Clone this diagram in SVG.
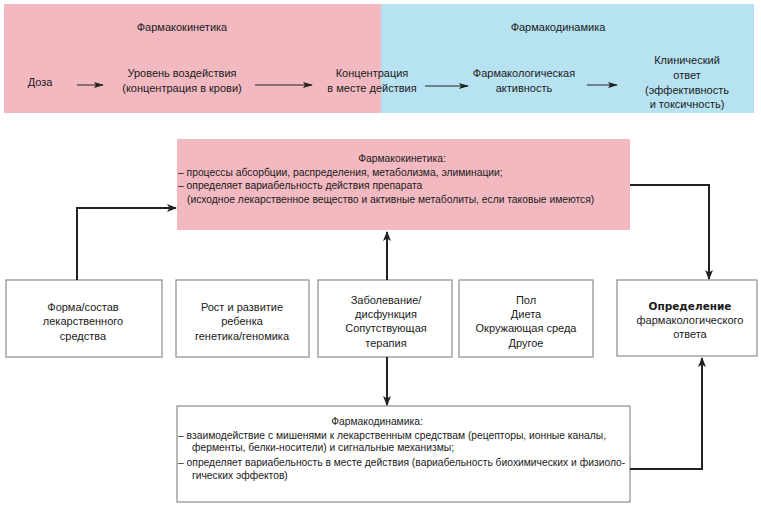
<svg xmlns="http://www.w3.org/2000/svg" width="761" height="506" viewBox="0 0 761 506">
<style>
text{font-family:"Liberation Sans",Arial,sans-serif;fill:#1a1a1a}
.t{font-size:11px;text-anchor:middle}
.s{font-size:10.3px}
.sc{font-size:10.3px;text-anchor:middle}
.box{fill:#fff;stroke:#8a8a8a;stroke-width:1.2}
.pk{fill:#f3b9c1}
.bl{fill:#b7e2f2}
.c{fill:none;stroke:#222;stroke-width:2}
.c1{fill:none;stroke:#222;stroke-width:1}
.b{font-family:"DejaVu Sans",Verdana,sans-serif;font-weight:bold;font-size:10.5px}
</style>
<defs>
<marker id="a" markerWidth="10" markerHeight="8" refX="9" refY="4" orient="auto" markerUnits="userSpaceOnUse"><path d="M0,0 L10,4 L0,8 L2.5,4 Z" fill="#222"/></marker>
<marker id="a1" markerWidth="10" markerHeight="6" refX="9" refY="3" orient="auto" markerUnits="userSpaceOnUse"><path d="M0,0 L10,3 L0,6 L2,3 Z" fill="#222"/></marker>
</defs>
<g id="band-pk">
<rect class="pk" x="4" y="4" width="377" height="109"/>
<text class="t" x="182" y="31">Фармакокинетика</text>
</g>
<g id="band-pd">
<rect class="bl" x="381" y="4" width="373" height="109"/>
<text class="t" x="558" y="31">Фармакодинамика</text>
</g>
<g id="dose"><text class="t" x="40" y="86">Доза</text></g>
<g id="level"><text class="t" x="182" y="77">Уровень воздействия</text><text class="t" x="182" y="92">(концентрация в крови)</text></g>
<g id="conc"><text class="t" x="372" y="77">Концентрация</text><text class="t" x="372" y="92">в месте действия</text></g>
<g id="activity"><text class="t" x="524" y="77">Фармакологическая</text><text class="t" x="524" y="92">активность</text></g>
<g id="clinical"><text class="t" x="687" y="64">Клинический</text><text class="t" x="687" y="79">ответ</text><text class="t" x="687" y="94">(эффективность</text><text class="t" x="687" y="108">и токсичность)</text></g>

<g id="pk-box">
<rect class="pk" x="177" y="139" width="453" height="91"/>
<text class="sc" x="402" y="162">Фармакокинетика:</text>
<text class="s" x="178" y="175.5">– процессы абсорбции, распределения, метаболизма, элиминации;</text>
<text class="s" x="178" y="189">– определяет вариабельность действия препарата</text>
<text class="s" x="187" y="202.5">(исходное лекарственное вещество и активные метаболиты, если таковые имеются)</text>
</g>
<g id="form">
<rect class="box" x="6" y="280" width="156" height="77"/>
<text class="t" x="83" y="311">Форма/состав</text><text class="t" x="83" y="325">лекарственного</text><text class="t" x="83" y="340">средства</text>
</g>
<g id="growth">
<rect class="box" x="176" y="280" width="133" height="77"/>
<text class="t" x="242" y="311">Рост и развитие</text><text class="t" x="242" y="325">ребенка</text><text class="t" x="242" y="340">генетика/геномика</text>
</g>
<g id="disease">
<rect class="box" x="318" y="280" width="134" height="77"/>
<text class="t" x="386" y="304">Заболевание/</text><text class="t" x="386" y="318">дисфункция</text><text class="t" x="386" y="332">Сопутствующая</text><text class="t" x="386" y="347">терапия</text>
</g>
<g id="sex">
<rect class="box" x="459" y="280" width="134" height="77"/>
<text class="t" x="526" y="304">Пол</text><text class="t" x="526" y="318">Диета</text><text class="t" x="526" y="332">Окружающая среда</text><text class="t" x="526" y="347">Другое</text>
</g>
<g id="response">
<rect class="box" x="617" y="280" width="140" height="76"/>
<text class="b" x="690" y="310" text-anchor="middle">Определение</text><text class="t" x="690" y="324">фармакологического</text><text class="t" x="690" y="338">ответа</text>
</g>
<g id="pd-box">
<rect class="box" x="177" y="406" width="453" height="96"/>
<text class="sc" x="377" y="425">Фармакодинамика:</text>
<text class="s" x="178" y="438.5">– взаимодействие с мишенями к лекарственным средствам (рецепторы, ионные каналы,</text>
<text class="s" x="192" y="451">ферменты, белки-носители) и сигнальные механизмы;</text>
<text class="s" x="178" y="465.5">– определяет вариабельность в месте действия (вариабельность биохимических и физиоло-</text>
<text class="s" x="192" y="479">гических эффектов)</text>
</g>
<g id="connectors">
<line class="c1" x1="77" y1="85" x2="103" y2="85" marker-end="url(#a1)"/>
<line class="c1" x1="255" y1="85" x2="312" y2="85" marker-end="url(#a1)"/>
<line class="c1" x1="425" y1="86" x2="468" y2="86" marker-end="url(#a1)"/>
<line class="c1" x1="587" y1="85" x2="617" y2="85" marker-end="url(#a1)"/>
<polyline class="c" points="77,280 77,208 176,208" marker-end="url(#a)"/>
<line class="c" x1="387" y1="280" x2="387" y2="232" marker-end="url(#a)"/>
<polyline class="c" points="630,185 709,185 709,279" marker-end="url(#a)"/>
<line class="c" x1="387" y1="357" x2="387" y2="405" marker-end="url(#a)"/>
<polyline class="c" points="630,469 702,469 702,358" marker-end="url(#a)"/>
</g>
</svg>
